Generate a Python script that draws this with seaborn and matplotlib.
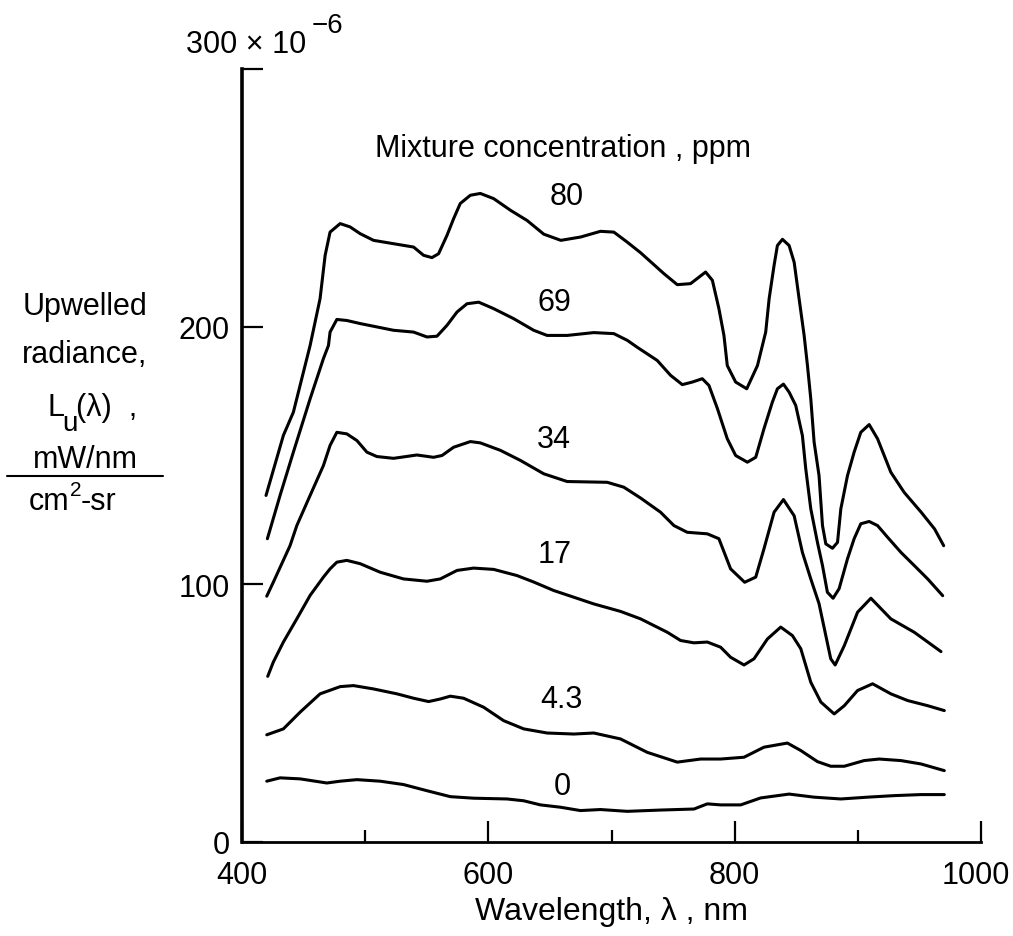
import matplotlib
matplotlib.use("Agg")
import matplotlib.pyplot as plt
import matplotlib.transforms as mtransforms
import seaborn as sns
import pandas as pd
from matplotlib.lines import Line2D

# ---------------- data (radiance in units of 1e-6 mW/nm/(cm^2 sr)) ----------------
x_80 = [419.5, 433.6, 441.7, 455.3, 463.4, 467.5, 471.5, 479.7, 487.8, 495.9, 506.8, 523, 539.3,
        547.4, 554.2, 559.6, 566.4, 571.8, 577.2, 585.4, 593.5, 604.3, 618.2, 631.5, 645, 658.9,
        675, 691, 701.9, 712.8, 723.6, 742.5, 753.4, 764.2, 776.4, 781.9, 787.2, 791.3, 794,
        800.8, 809.8, 818.5, 825.2, 828, 832, 834.7, 838.8, 844.2, 848.3, 852.3, 856.4, 859.1,
        861.8, 864.5, 868.5, 871.3, 874, 879.4, 883.5, 886.2, 891.6, 897, 902.4, 909.2, 916,
        926.8, 937.6, 951.4, 962.3, 969.7]
y_80 = [134.5, 157.8, 166.8, 192.7, 210.9, 227.7, 236.7, 240, 238.7, 236.1, 233.5, 232.2, 230.9,
        227.7, 226.8, 228.3, 235.4, 241.9, 247.8, 251, 251.7, 249.7, 245.1, 241.2, 235.9, 233.5,
        234.8, 237, 236.7, 232.8, 228.7, 220.6, 216.3, 216.7, 221.2, 218, 207, 196.6, 184.9,
        178.5, 175.9, 184.9, 197.9, 210.9, 223.8, 231.5, 233.9, 231.5, 225, 210.9, 196.6, 184.9,
        172, 155.2, 142.2, 122.8, 115.7, 114, 116.3, 129.3, 142.2, 151.3, 159, 162, 156.5,
        143.5, 135.7, 128, 121.5, 115]

x_69 = [420.6, 430.9, 441.7, 455.3, 466.1, 470.2, 471.5, 477, 485.1, 496, 509.5, 523, 539.3,
        550.2, 558.3, 566.4, 574.6, 582.7, 592.2, 604.3, 620.6, 636.8, 647.7, 664, 685.6, 701.9,
        712.8, 720.9, 737.1, 748, 757.5, 765.6, 773.7, 779.1, 786, 794, 800.8, 810.3, 817.1,
        823.8, 830.6, 834.7, 839.6, 844.2, 849.6, 855, 857.7, 861.8, 867.2, 871.3, 875.3, 879.9,
        884.8, 891.6, 897, 902.4, 909.2, 916, 924.1, 935, 945.8, 956.7, 968.9]
y_69 = [117.7, 134.5, 151.3, 172, 187.6, 192.7, 197.9, 202.8, 202.4, 201.2, 199.9, 198.6, 197.9,
        196, 196.3, 200.5, 205.7, 208.9, 209.5, 207, 203.1, 198.6, 196.6, 196.6, 197.7, 197.3,
        194.7, 192, 186.9, 181.1, 177.5, 178.5, 179.8, 177.2, 168.2, 156.5, 150, 147.4, 149.3,
        160.4, 170.7, 175.9, 177.7, 174.6, 169.4, 157.7, 144.9, 129.3, 116.3, 107.3, 96.9, 94.6,
        98.3, 109.9, 117.7, 123.5, 124.4, 122.8, 118.3, 112.4, 107.3, 102.1, 95.6]

x_34 = [420.1, 425.4, 439, 444.5, 455.3, 466.1, 471.5, 477, 485.1, 493.3, 501.4, 509.5, 523, 542,
        555.5, 562.4, 571.8, 585.4, 593.5, 609.8, 626, 645, 664, 696.5, 710, 723.6, 739.8, 750.7,
        761.5, 777.8, 787.2, 796.7, 808.1, 817.1, 823.8, 832, 839.6, 848.3, 855, 861.8, 868.5,
        878, 881.6, 889, 899.8, 910.6, 926.8, 945.8, 967.5]
y_34 = [95.4, 100.8, 115, 122.8, 134.5, 146.1, 153.9, 159, 158.4, 155.8, 151.3, 149.6, 148.9, 150.2,
        149.3, 150, 153.2, 155.4, 154.9, 152, 148.1, 142.9, 139.9, 139.6, 137.7, 133.5, 128, 122.8,
        120.2, 119.6, 117.7, 106, 100.8, 102.8, 113.8, 128, 132.9, 126.6, 112.4, 102.1, 92.5,
        71.1, 68.7, 76.2, 89.2, 94.6, 86.6, 81.4, 73.9]

x_17 = [420.9, 425.4, 433.6, 444.5, 455.3, 466.1, 471.5, 477, 485.1, 496, 512.2, 531.1, 550.2, 561,
        574.6, 588, 604.3, 623.3, 636.8, 653.1, 669.4, 685.6, 707.3, 723.6, 745.3, 756.1, 766.9,
        777.8, 788.6, 796.7, 807.6, 815.7, 826.6, 837.4, 846.9, 853.7, 861.8, 870, 880.8, 889,
        899.8, 912, 926.8, 940.4, 956.7, 970.2]
y_17 = [64.3, 69.8, 77.6, 86.6, 95.7, 102.8, 106, 108.6, 109.3, 108, 104.7, 102.1, 101.2, 102.1,
        105.4, 106.3, 105.8, 103.4, 100.9, 97.6, 95, 92.4, 89.5, 86.6, 81.4, 78.2, 77.3,
        77.6, 75.6, 71.7, 68.7, 71.1, 78.8, 83.4, 80.1, 75, 62, 54.3, 49.7, 52.9,
        58.8, 61.4, 57.5, 54.9, 52.9, 51]

x_4p3 = [420.1, 433.6, 447.2, 463.4, 479.7, 490.5, 506.8, 525.8, 539.3, 551.5, 561, 569.1, 579.9,
         596.2, 612.4, 628.7, 647.7, 669.4, 685.6, 707.3, 729, 753.4, 772.4, 788.6, 807.6, 823.8,
         842.8, 853.7, 867.2, 878, 889, 905.1, 917.3, 935, 951.2, 970.2]
y_4p3 = [41.6, 43.9, 50.4, 57.5, 60.3, 60.7, 59.4, 57.5, 55.8, 54.5, 55.5, 56.6, 55.8,
         52.3, 47.1, 43.9, 42.3, 41.9, 42.3, 40, 34.8, 31, 32.2, 32.2, 32.9, 36.8,
         38.4, 35.5, 31.2, 29.4, 29.4, 31.6, 32.2, 31.6, 30.3, 27.7]

x_0 = [420.1, 430.9, 447.2, 468.9, 479.7, 493.3, 512.2, 531.1, 550.2, 569.1, 588, 615.2, 628.7,
       642.3, 658.5, 674.8, 691, 712.8, 739.8, 767, 777.8, 788.6, 804.9, 821.1, 844.2, 864.5,
       886.2, 907.9, 929.5, 951.2, 970.2]
y_0 = [23.6, 24.9, 24.5, 22.9, 23.6, 24.2, 23.6, 22.3, 19.9, 17.6, 17, 16.7, 16,
       14.4, 13.5, 12.2, 12.6, 11.9, 12.4, 12.8, 14.8, 14.4, 14.4, 17.1, 18.6, 17.4,
       16.7, 17.4, 18, 18.4, 18.4]

series_names = ["80", "69", "34", "17", "4.3", "0"]
series_x = [x_80, x_69, x_34, x_17, x_4p3, x_0]
series_y = [y_80, y_69, y_34, y_17, y_4p3, y_0]
# label anchor positions (data coords)
label_x = [664, 653.5, 652.8, 654, 659.6, 660]
label_y = [247.8, 206.3, 153.3, 108.6, 52.3, 18.6]

x_ticks = [400, 600, 800, 1000]
x_minor = [500, 700, 900]
y_ticks = [0, 100, 200, 300]
y_ticklabels = ["0", "100", "200", ""]

# ---------------- plot ----------------
sns.set_style("white")
FONT = ["Liberation Sans", "DejaVu Sans"]
plt.rcParams["font.family"] = FONT
for k in ["text.color", "axes.labelcolor", "xtick.color", "ytick.color", "axes.edgecolor"]:
    plt.rcParams[k] = "black"

frames = []
for name, xs, ys in zip(series_names, series_x, series_y):
    frames.append(pd.DataFrame({"wavelength": xs, "radiance": ys, "ppm": name}))
df = pd.concat(frames, ignore_index=True)

W, H = 1013, 937
fig = plt.figure(figsize=(W / 100, H / 100), dpi=100)
ax = fig.add_axes([242 / W, (H - 843) / H, 739 / W, 773 / H])

sns.lineplot(data=df, x="wavelength", y="radiance", units="ppm", estimator=None,
             color="black", linewidth=2.2, sort=False, ax=ax, legend=False)

ax.set_xlim(400, 1000)
ax.set_ylim(0, 300)
ax.set_xticks(x_ticks)
ax.set_xticks(x_minor, minor=True)
ax.set_yticks(y_ticks)
ax.set_yticklabels(y_ticklabels)

for s in ["top", "right"]:
    ax.spines[s].set_visible(False)
ax.spines["left"].set_linewidth(2.6)
ax.spines["bottom"].set_linewidth(2.0)

ax.tick_params(axis="both", which="both", bottom=True, left=True, top=False, right=False)
ax.tick_params(axis="both", which="major", direction="in", length=15, width=1.6,
               labelsize=22, color="black", labelcolor="black")
ax.tick_params(axis="x", which="minor", direction="in", length=9, width=1.6)
ax.tick_params(axis="x", which="major", pad=13)
ax.tick_params(axis="y", which="major", pad=9)

# nudge the last x tick label ("1000") slightly left so it stays inside the figure
last = ax.xaxis.get_major_ticks()[-1].label1
last.set_transform(last.get_transform() +
                   mtransforms.ScaledTranslation(-5 / 100, 0, fig.dpi_scale_trans))

ax.set_xlabel("Wavelength, λ , nm", fontsize=23, labelpad=4)
ax.set_ylabel("")

# top y label with multiplier
fig.text(186 / W, (H - 53) / H, "300 × 10", fontsize=22, ha="left", va="baseline")
fig.text(312 / W, (H - 33) / H, "−6", fontsize=20, ha="left", va="baseline")

# chart title inside
ax.text(661, 266.4, "Mixture concentration , ppm", fontsize=22, ha="center", va="baseline")

for name, lx, ly in zip(series_names, label_x, label_y):
    ax.text(lx, ly, name, fontsize=22, ha="center", va="baseline")

# y-axis label block
cx = 85 / W
ylab = [("Upwelled", 315), ("radiance,", 363), ("mW/nm", 468)]
for txt, base in ylab:
    fig.text(cx, (H - base) / H, txt, fontsize=22, ha="center", va="baseline")
# L_u(lambda) line with a large subscript
fig.text(47 / W, (H - 416) / H, "L", fontsize=22, ha="left", va="baseline")
fig.text(62 / W, (H - 431) / H, "u", fontsize=20, ha="left", va="baseline")
fig.text(76 / W, (H - 416) / H, "(λ)  ,", fontsize=22, ha="left", va="baseline")
# cm^2-sr line with a raised superscript
fig.text(29 / W, (H - 510) / H, "cm", fontsize=22, ha="left", va="baseline")
fig.text(70 / W, (H - 496) / H, "2", fontsize=15, ha="left", va="baseline")
fig.text(81 / W, (H - 510) / H, "-sr", fontsize=22, ha="left", va="baseline")
fig.add_artist(Line2D([7 / W, 163 / W], [(H - 477) / H, (H - 477) / H],
                      color="black", linewidth=1.5, transform=fig.transFigure))

fig.savefig("out.png", dpi=100)
